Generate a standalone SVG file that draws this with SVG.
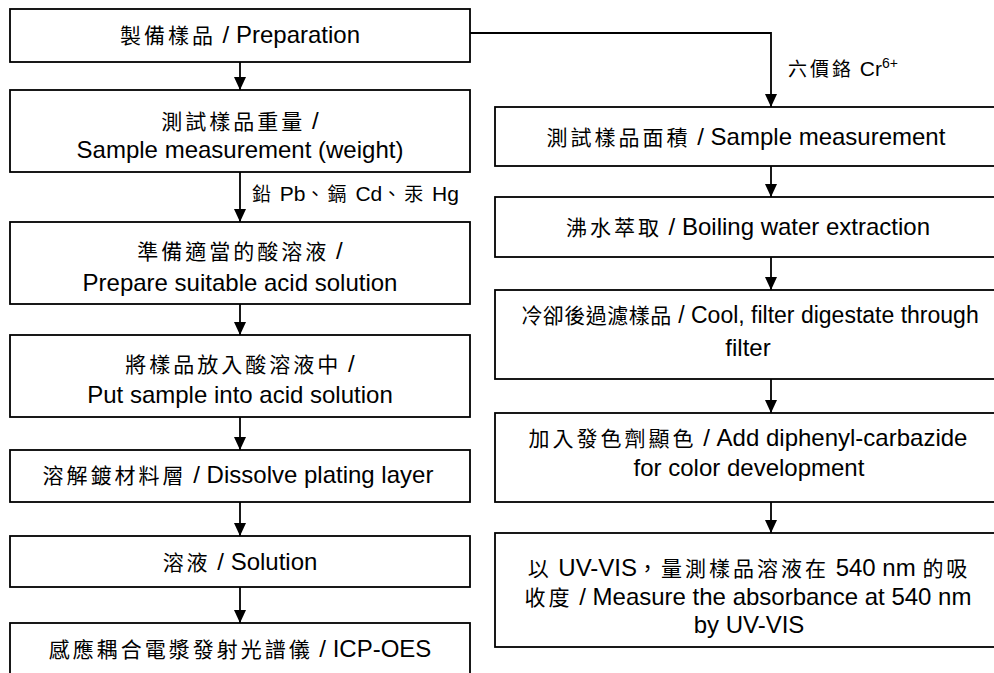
<svg xmlns="http://www.w3.org/2000/svg" width="994" height="673" viewBox="0 0 994 673" xml:space="preserve">
<style>
  .box { fill: #fff; stroke: #000; stroke-width: 1.8; }
  .t { font-family: "Liberation Sans", "Noto Sans CJK TC", sans-serif; font-size: 24px; fill: #000; text-anchor: middle; }
  .c { font-family: "Noto Sans CJK TC", sans-serif; font-size: 21px; letter-spacing: 3px; }
  .c2 { font-family: "Noto Sans CJK TC", sans-serif; font-size: 21px; letter-spacing: 0.5px; }
  .l { font-family: "Liberation Sans", "Noto Sans CJK TC", sans-serif; font-size: 21px; fill: #000; }
  .lc { font-family: "Noto Sans CJK TC", sans-serif; font-size: 19px; letter-spacing: 3px; }
  .sup { font-size: 14px; }
  .conn { fill: none; stroke: #000; stroke-width: 1.8; marker-end: url(#arr); }
</style>
<defs>
  <marker id="arr" viewBox="0 0 13 12" refX="13" refY="6" markerWidth="13" markerHeight="12" markerUnits="userSpaceOnUse" orient="auto">
    <path d="M0,0 L13,6 L0,12 Z" fill="#000"/>
  </marker>
</defs>
<rect width="994" height="673" fill="#fff"/>

<g id="connectors">
  <line class="conn" x1="240" y1="62" x2="240" y2="90"/>
  <line class="conn" x1="240" y1="172" x2="240" y2="222"/>
  <line class="conn" x1="240" y1="304" x2="240" y2="335"/>
  <line class="conn" x1="240" y1="417" x2="240" y2="450"/>
  <line class="conn" x1="240" y1="502" x2="240" y2="536"/>
  <line class="conn" x1="240" y1="587" x2="240" y2="623"/>
  <path class="conn" d="M470,33 H771 V107"/>
  <line class="conn" x1="771" y1="166" x2="771" y2="197"/>
  <line class="conn" x1="771" y1="257" x2="771" y2="290"/>
  <line class="conn" x1="771" y1="379" x2="771" y2="413"/>
  <line class="conn" x1="771" y1="502" x2="771" y2="533"/>
  <text class="l" x="252" y="201"><tspan class="lc">鉛</tspan> Pb<tspan class="lc">、鎘</tspan> Cd<tspan class="lc">、汞</tspan> Hg</text>
  <text class="l" x="788" y="76"><tspan class="lc">六價鉻</tspan> Cr<tspan class="sup" dy="-8">6+</tspan></text>
</g>

<g id="n1">
  <rect class="box" x="10" y="9" width="460" height="53"/>
  <text class="t" x="240" y="43"><tspan class="c">製備樣品</tspan>  / Preparation</text>
</g>
<g id="n2">
  <rect class="box" x="10" y="90" width="460" height="82"/>
  <text class="t" x="240" y="129"><tspan class="c">測試樣品重量</tspan>  /</text>
  <text class="t" x="240" y="158">Sample measurement (weight)</text>
</g>
<g id="n3">
  <rect class="box" x="10" y="222" width="460" height="82"/>
  <text class="t" x="240" y="259"><tspan class="c">準備適當的酸溶液</tspan>  /</text>
  <text class="t" x="240" y="291">Prepare suitable acid solution</text>
</g>
<g id="n4">
  <rect class="box" x="10" y="335" width="460" height="82"/>
  <text class="t" x="240" y="372"><tspan class="c">將樣品放入酸溶液中</tspan>  /</text>
  <text class="t" x="240" y="403">Put sample into acid solution</text>
</g>
<g id="n5">
  <rect class="box" x="10" y="450" width="460" height="52"/>
  <text class="t" x="238" y="483"><tspan class="c">溶解鍍材料層</tspan>  / Dissolve plating layer</text>
</g>
<g id="n6">
  <rect class="box" x="10" y="536" width="460" height="51"/>
  <text class="t" x="240" y="570"><tspan class="c">溶液</tspan>  / Solution</text>
</g>
<g id="n7">
  <rect class="box" x="10" y="623" width="460" height="70"/>
  <text class="t" x="240" y="657"><tspan class="c">感應耦合電漿發射光譜儀</tspan>  / ICP-OES</text>
</g>

<g id="r1">
  <rect class="box" x="495" y="107" width="506" height="59"/>
  <text class="t" x="746" y="145"><tspan class="c">測試樣品面積</tspan>  / Sample measurement</text>
</g>
<g id="r2">
  <rect class="box" x="495" y="197" width="506" height="60"/>
  <text class="t" x="748" y="235"><tspan class="c">沸水萃取</tspan>  / Boiling water extraction</text>
</g>
<g id="r3">
  <rect class="box" x="495" y="290" width="506" height="89"/>
  <text class="t" x="750" y="323" style="font-size:23px"><tspan class="c2">冷卻後過濾樣品</tspan>  / Cool, filter digestate through</text>
  <text class="t" x="748" y="356">filter</text>
</g>
<g id="r4">
  <rect class="box" x="495" y="413" width="506" height="89"/>
  <text class="t" x="748" y="446"><tspan class="c">加入發色劑顯色</tspan>  / Add diphenyl-carbazide</text>
  <text class="t" x="749" y="476">for color development</text>
</g>
<g id="r5">
  <rect class="box" x="495" y="533" width="506" height="114"/>
  <text class="t" x="749" y="576"><tspan class="c">以</tspan> UV-VIS<tspan class="c">，量測樣品溶液在</tspan> 540 nm <tspan class="c">的吸</tspan></text>
  <text class="t" x="748" y="605"><tspan class="c">收度</tspan>  / Measure the absorbance at 540 nm</text>
  <text class="t" x="749" y="633">by UV-VIS</text>
</g>
</svg>
